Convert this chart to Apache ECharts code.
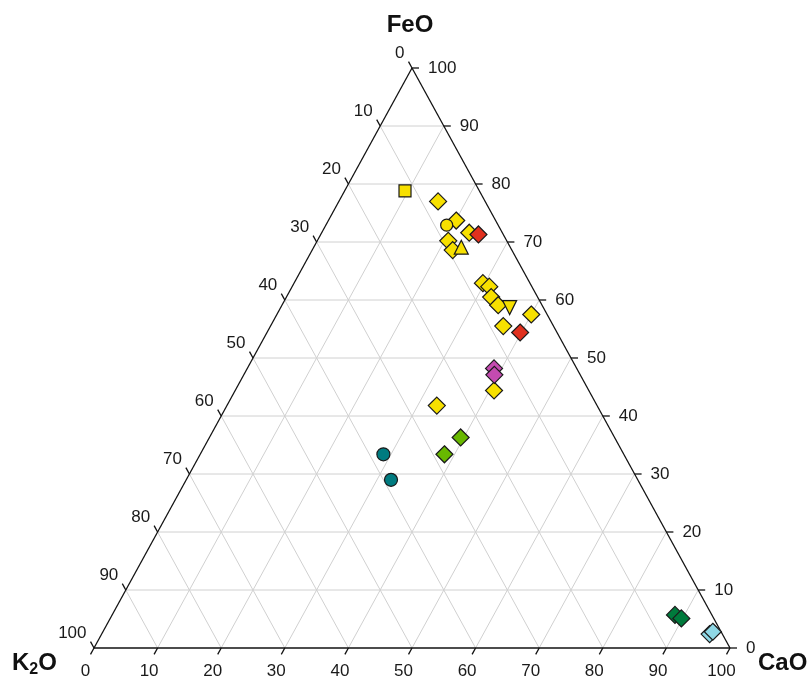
<!DOCTYPE html>
<html>
<head>
<meta charset="utf-8">
<script src="https://cdn.jsdelivr.net/npm/echarts@6/dist/echarts.min.js"></script>
<style>html,body{margin:0;padding:0;background:#fff}#c{width:810px;height:677px}</style>
</head>
<body>
<div id="c"></div>
<script>
// Compositions: [FeO, K2O, CaO]
const yellowDiamonds = [
  [77.0, 7.4, 15.6], [73.7, 6.2, 20.1], [71.6, 5.2, 23.2], [70.2, 9.2, 20.6],
  [68.6, 9.3, 22.1], [62.9, 7.4, 29.7], [62.3, 6.7, 31.0], [60.5, 7.3, 32.2],
  [59.1, 6.9, 34.0], [57.5, 2.5, 40.0], [55.5, 7.9, 36.6], [44.4, 14.9, 40.7],
  [41.8, 25.2, 33.0]
];
const yellowSquare = [[78.8, 11.7, 9.5]];
const yellowCircle = [[72.9, 8.1, 19.0]];
const yellowTriUp = [[69.1, 7.7, 23.2]];
const yellowTriDown = [[58.7, 5.3, 36.0]];
const redDiamonds = [[71.3, 3.9, 24.8], [54.4, 5.8, 39.8]];
const magentaDiamonds = [[48.2, 13.0, 38.8], [47.1, 13.5, 39.4]];
const greenDiamonds = [[36.3, 24.2, 39.5], [33.4, 28.2, 38.4]];
const tealCircles = [[33.4, 37.8, 28.8], [29.0, 38.8, 32.2]];
const darkGreenDiamonds = [[5.7, 5.8, 88.5], [5.1, 5.1, 89.8]];
const lightBlueDiamonds = [[2.4, 2.0, 95.6], [2.8, 1.3, 95.9]];
const tickValues = [0, 10, 20, 30, 40, 50, 60, 70, 80, 90, 100];

// ternary (FeO, CaO) -> cartesian (x, y) in 0..100 units
function tern(feo, cao) { return [cao + feo / 2, feo]; }
function toXY(arr) { return arr.map(r => tern(r[0], r[2])); }

const D = 1.1; // tick length in composition units
const gridSegs = [], edgeSegs = [], tickSegs = [];
const rightLab = [], leftLab = [], bottomLab = [];
tickValues.forEach(v => {
  if (v > 0 && v < 100) {
    gridSegs.push([...tern(v, 0), ...tern(v, 100 - v)]);          // FeO const
    gridSegs.push([...tern(0, v), ...tern(100 - v, v)]);          // CaO const
    gridSegs.push([...tern(100 - v, 0), ...tern(0, 100 - v)]);    // K2O const
  }
  const r0 = tern(v, 100 - v), r1 = tern(v, 100 - v + D);
  tickSegs.push([...r0, ...r1]); rightLab.push([r1[0], r1[1], v]);
  const l0 = tern(100 - v, 0), l1 = tern(100 - v + D, -D);
  tickSegs.push([...l0, ...l1]); leftLab.push([l1[0], l1[1], v]);
  const b0 = tern(0, v), b1 = tern(-D, v);
  tickSegs.push([...b0, ...b1]); bottomLab.push([b1[0], b1[1], v]);
});
edgeSegs.push([...tern(0, 0), ...tern(100, 0)]);
edgeSegs.push([...tern(100, 0), ...tern(0, 100)]);
edgeSegs.push([...tern(0, 0), ...tern(0, 100)]);

function segSeries(data, color, width, z) {
  return {
    type: 'custom', data: data, z: z, silent: true,
    encode: { x: [0, 2], y: [1, 3] },
    renderItem: function (params, api) {
      const p1 = api.coord([api.value(0), api.value(1)]);
      const p2 = api.coord([api.value(2), api.value(3)]);
      return { type: 'line', shape: { x1: p1[0], y1: p1[1], x2: p2[0], y2: p2[1] },
               style: { stroke: color, lineWidth: width } };
    }
  };
}
const FONT = '"Liberation Sans", Arial, Helvetica, sans-serif';
function labSeries(data, align, vAlign, dx, dy) {
  return {
    type: 'custom', data: data, z: 5, silent: true,
    encode: { x: 0, y: 1 },
    renderItem: function (params, api) {
      const p = api.coord([api.value(0), api.value(1)]);
      return { type: 'text', x: p[0] + dx, y: p[1] + dy,
               style: { text: String(api.value(2)), fontSize: 17, fontFamily: FONT,
                        fill: '#1a1a1a', align: align, verticalAlign: vAlign } };
    }
  };
}
function pts(data, symbol, size, color, rotate) {
  return {
    type: 'scatter', data: toXY(data), symbol: symbol, symbolSize: size,
    symbolRotate: rotate || 0, z: 10,
    itemStyle: { color: color, borderColor: '#1a1a1a', borderWidth: 1.2, opacity: 1 }
  };
}

const YEL = '#f7e000';
const chart = echarts.init(document.getElementById('c'));
chart.setOption({
  animation: false,
  grid: { left: 94, right: 80, top: 68, bottom: 29 },
  xAxis: { type: 'value', min: 0, max: 100, show: false },
  yAxis: { type: 'value', min: 0, max: 100, show: false },
  graphic: [
    { type: 'text', x: 410, y: 25, style: { text: 'FeO', font: 'bold 24px ' + FONT, fill: '#111', align: 'center', verticalAlign: 'middle' } },
    { type: 'text', x: 12, y: 663, style: { text: '{k|K}{s|2}{k|O}', align: 'left', verticalAlign: 'middle', fill: '#111',
        rich: { k: { font: 'bold 24px ' + FONT, fill: '#111' },
                s: { font: 'bold 16px ' + FONT, padding: [14, 0, 0, 0], fill: '#111' } } } },
    { type: 'text', x: 758, y: 663, style: { text: 'CaO', font: 'bold 24px ' + FONT, fill: '#111', align: 'left', verticalAlign: 'middle' } }
  ],
  series: [
    segSeries(gridSegs, '#d0d0d0', 1, 1),
    segSeries(edgeSegs, '#111', 1.3, 3),
    segSeries(tickSegs, '#111', 1.3, 3),
    labSeries(rightLab, 'left', 'middle', 9, 0),
    labSeries(leftLab, 'right', 'middle', -4, -8),
    labSeries(bottomLab, 'center', 'middle', -5, 17),
    pts(yellowDiamonds, 'diamond', 17, YEL),
    pts(yellowSquare, 'rect', 12, YEL),
    pts(yellowCircle, 'circle', 12, YEL),
    pts(yellowTriUp, 'triangle', 14, YEL),
    pts(yellowTriDown, 'triangle', 14, YEL, 180),
    pts(redDiamonds, 'diamond', 17, '#e0301e'),
    pts(magentaDiamonds, 'diamond', 17, '#c44bb0'),
    pts(greenDiamonds, 'diamond', 17, '#68b800'),
    pts(tealCircles, 'circle', 13, '#007b80'),
    pts(darkGreenDiamonds, 'diamond', 17, '#007a3c'),
    pts(lightBlueDiamonds, 'diamond', 17, '#8fd8e6')
  ]
});
</script>
</body>
</html>
